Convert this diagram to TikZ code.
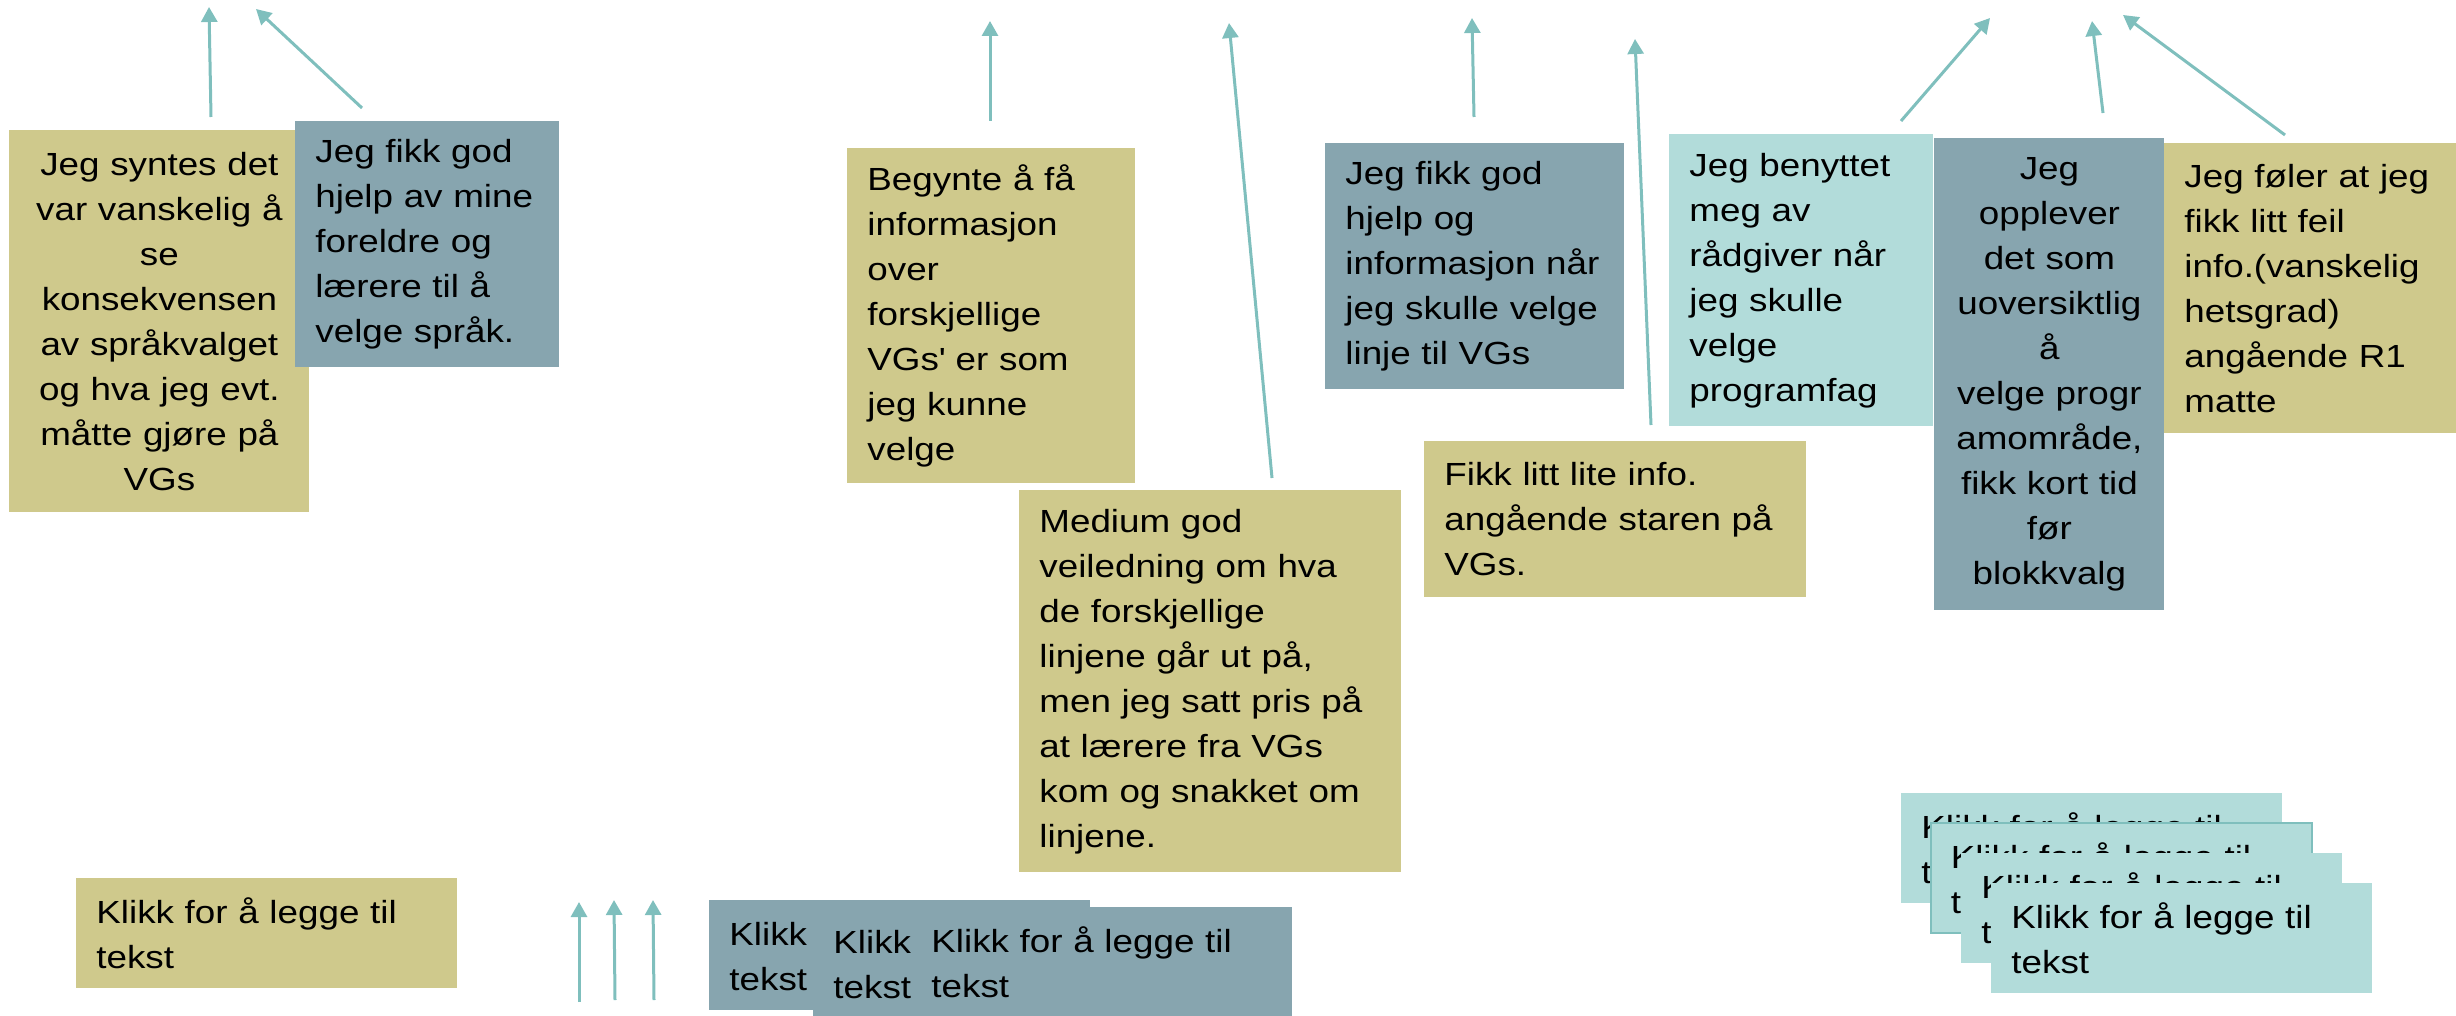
\documentclass[tikz,border=0pt]{standalone}
\usepackage{fontspec}
\setmainfont{Liberation Sans}[FakeStretch=1.15]
\usepackage{tikz}
\usetikzlibrary{positioning,arrows.meta}

\definecolor{sand}{HTML}{CFC98C}
\definecolor{slate}{HTML}{87A5AF}
\definecolor{mint}{HTML}{B2DCDA}
\definecolor{pointer}{HTML}{7FBFBD}

\begin{document}
\begin{tikzpicture} [x=0.5pt,y=-0.5pt,
    note/.style={anchor=north west,inner xsep=10pt,inner ysep=0pt,align=left,
        font=\fontsize{16pt}{22.5pt}\selectfont},
    sandnote/.style={note,fill=sand},
    slatenote/.style={note,fill=slate},
    mintnote/.style={note,fill=mint},
    clicknote/.style={text width=170.5pt,minimum height=55pt},
    arr/.style={-{Triangle[length=7.5pt,width=8pt]},line width=1.5pt,draw=pointer}]
    \useasboundingbox (0,0) rectangle (2456,1016);

    % upper row
    \node[sandnote,align=center,text width=130pt,minimum height=191pt] (syntes) at (9,130)
        {Jeg syntes det\\var vanskelig å\\se\\konsekvensen\\av språkvalget\\og hva jeg evt.\\måtte gjøre på\\VGs};
    \node[slatenote,text width=112pt,minimum height=123pt] (foreldre) at (295,121)
        {Jeg fikk god\\hjelp av mine\\foreldre og\\lærere til å\\velge språk.};
    \node[sandnote,text width=124pt,minimum height=167.5pt] (begynte) at (847,148)
        {Begynte å få\\informasjon\\over\\forskjellige\\VGs\textquotesingle{} er som\\jeg kunne\\velge};
    \node[sandnote,text width=171pt,minimum height=191pt] (medium) at (1019,490)
        {Medium god\\veiledning om hva\\de forskjellige\\linjene går ut på,\\men jeg satt pris på\\at lærere fra VGs\\kom og snakket om\\linjene.};
    \node[slatenote,text width=129.5pt,minimum height=123pt] (linje) at (1325,143)
        {Jeg fikk god\\hjelp og\\informasjon når\\jeg skulle velge\\linje til VGs};
    \node[sandnote,text width=171pt,minimum height=78pt] (staren) at (1424,441)
        {Fikk litt lite info.\\angående staren på\\VGs.};
    \node[mintnote,text width=112pt,minimum height=146pt] (raadgiver) at (1669,134)
        {Jeg benyttet\\meg av\\rådgiver når\\jeg skulle\\velge\\programfag};
    \node[slatenote,align=center,text width=95pt,minimum height=236pt] (blokkvalg) at (1934,138)
        {Jeg\\opplever\\det som\\uoversiktlig\\å\\velge progr\\amområde,\\fikk kort tid\\før\\blokkvalg};
    \node[sandnote,text width=126pt,minimum height=145pt] (matte) at (2164,143)
        {Jeg føler at jeg\\fikk litt feil\\info.(vanskelig\\hetsgrad)\\angående R1\\matte};

    % lower row
    \node[sandnote,clicknote] (click1) at (76,878) {Klikk for å legge til\\tekst};
    \node[slatenote,clicknote] (click2) at (709,900) {Klikk for å legge til\\tekst};
    \node[slatenote,clicknote] (click3) at ([shift={(104,8)}]click2.north west) {Klikk for å legge til\\tekst};
    \node[slatenote,clicknote] (click4) at ([shift={(98,-1)}]click3.north west) {Klikk for å legge til\\tekst};

    \node[mintnote,clicknote] (click5) at (1901,793) {Klikk for å legge til\\tekst};
    \node[mintnote,clicknote,draw=pointer,line width=0.75pt] (click6) at ([shift={(29,29)}]click5.north west) {Klikk for å legge til\\tekst};
    \node[mintnote,clicknote] (click7) at ([shift={(31,31)}]click6.north west) {Klikk for å legge til\\tekst};
    \node[mintnote,clicknote] (click8) at ([shift={(30,30)}]click7.north west) {Klikk for å legge til\\tekst};

    % arrow ends
    \coordinate (s1) at (211,117);  \coordinate (t1) at (209,7);
    \coordinate (s2) at (362,108);  \coordinate (t2) at (256,9);
    \coordinate (s3) at (990,121);  \coordinate (t3) at (990,21);
    \coordinate (s4) at (1272,478); \coordinate (t4) at (1229,23);
    \coordinate (s5) at (1474,117); \coordinate (t5) at (1472,18);
    \coordinate (s6) at (1651,425); \coordinate (t6) at (1635,39);
    \coordinate (s7) at (1901,121); \coordinate (t7) at (1990,18);
    \coordinate (s8) at (2103,113); \coordinate (t8) at (2092,21);
    \coordinate (s9) at (2285,135); \coordinate (t9) at (2123,15);
    \coordinate (u1) at (579,1002); \coordinate (v1) at (579,902);
    \coordinate (u2) at (615,1000); \coordinate (v2) at (614,900);
    \coordinate (u3) at (654,1000); \coordinate (v3) at (653,900);

    \path (s1) edge [arr] (t1);
    \path (s2) edge [arr] (t2);
    \path (s3) edge [arr] (t3);
    \path (s4) edge [arr] (t4);
    \path (s5) edge [arr] (t5);
    \path (s6) edge [arr] (t6);
    \path (s7) edge [arr] (t7);
    \path (s8) edge [arr] (t8);
    \path (s9) edge [arr] (t9);
    \path (u1) edge [arr] (v1);
    \path (u2) edge [arr] (v2);
    \path (u3) edge [arr] (v3);
\end{tikzpicture}
\end{document}
